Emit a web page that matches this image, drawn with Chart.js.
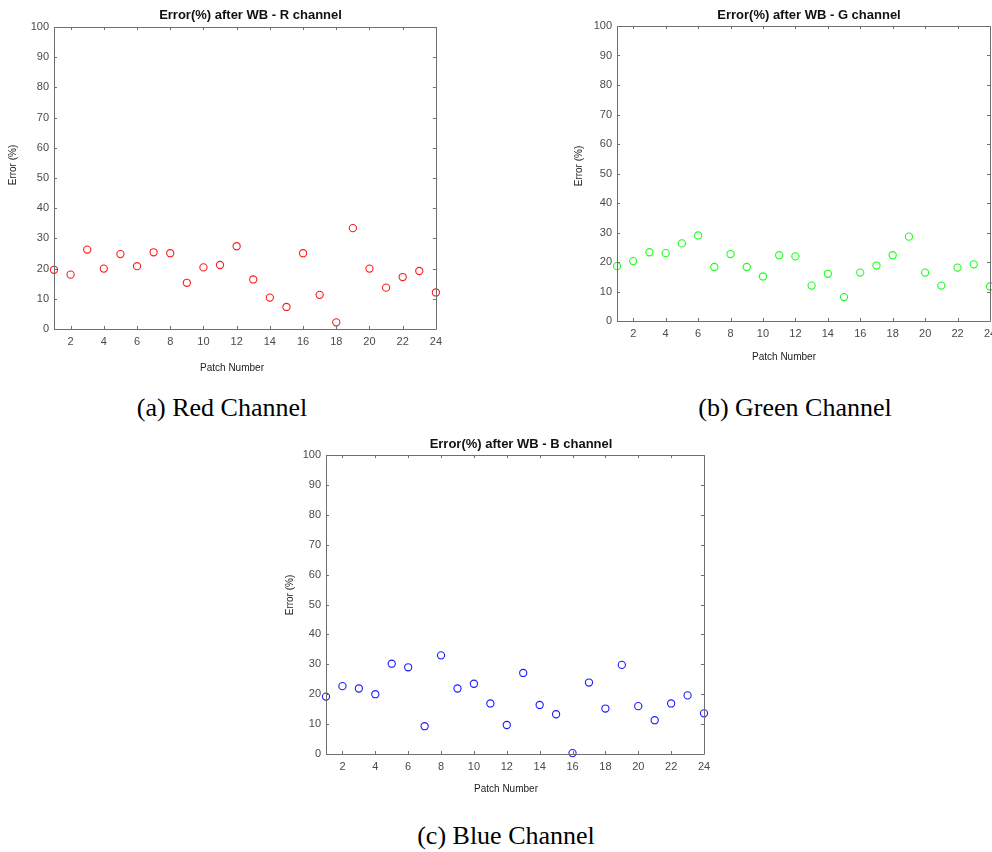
<!DOCTYPE html>
<html>
<head>
<meta charset="utf-8">
<script src="https://cdn.jsdelivr.net/npm/chart.js@4"></script>
<style>
  html, body { margin: 0; padding: 0; background: #fff; overflow: hidden; }
  body { width: 992px; height: 852px; position: relative; }
  .box { position: absolute; }
  .cap { position: absolute; font-family: "Liberation Serif", "Times New Roman", serif; font-size: 26px; color: #000; white-space: nowrap; transform: translate(-50%, -50%); }
</style>
</head>
<body>

<div class="box" id="boxR" style="left:0px;top:0px;width:448px;height:380px"><canvas id="chartR"></canvas></div>
<div class="box" id="boxG" style="left:560px;top:0px;width:452px;height:372px"><canvas id="chartG"></canvas></div>
<div class="box" id="boxB" style="left:280px;top:430px;width:440px;height:372px"><canvas id="chartB"></canvas></div>

<div class="cap" style="left:222px;top:408px">(a) Red Channel</div>
<div class="cap" style="left:795px;top:408px">(b) Green Channel</div>
<div class="cap" style="left:506px;top:836px">(c) Blue Channel</div>

<script>
// data
const patches = [1, 2, 3, 4, 5, 6, 7, 8, 9, 10, 11, 12, 13, 14, 15, 16, 17, 18, 19, 20, 21, 22, 23, 24];
const redErr   = [19.6, 18.0, 26.3, 20.0, 24.8, 20.8, 25.4, 25.1, 15.3, 20.4, 21.2, 27.4, 16.4, 10.4, 7.3, 25.1, 11.3, 2.2, 33.4, 20.0, 13.7, 17.2, 19.2, 12.1];
const greenErr = [18.6, 20.3, 23.3, 23.0, 26.3, 29.0, 18.3, 22.7, 18.3, 15.1, 22.3, 21.9, 12.0, 16.0, 8.1, 16.4, 18.8, 22.3, 28.6, 16.4, 12.0, 18.1, 19.2, 11.7];
const blueErr  = [19.2, 22.7, 21.9, 20.0, 30.2, 29.0, 9.3, 33.0, 21.9, 23.5, 16.9, 9.7, 27.1, 16.4, 13.3, 0.3, 23.9, 15.2, 29.8, 16.0, 11.3, 16.9, 19.6, 13.6];
const xTicks = [2, 4, 6, 8, 10, 12, 14, 16, 18, 20, 22, 24];
const yTicks = [0, 10, 20, 30, 40, 50, 60, 70, 80, 90, 100];

const FONT = '"Liberation Sans", Arial, Helvetica, sans-serif';

// matlab style box + inward ticks + title and axis labels
const matlabAxes = {
  id: 'matlabAxes',
  afterDatasetsDraw(chart, args, opts) {
    const ctx = chart.ctx;
    const a = chart.chartArea;
    const xs = chart.scales.x, ys = chart.scales.y;
    const tl = 3;
    ctx.save();
    ctx.strokeStyle = '#6e6e6e';
    ctx.lineWidth = 1;
    ctx.beginPath();
    ctx.rect(Math.round(a.left) + 0.5, Math.round(a.top) + 0.5, Math.round(a.right - a.left), Math.round(a.bottom - a.top));
    xTicks.forEach(v => {
      const px = Math.round(xs.getPixelForValue(v)) + 0.5;
      ctx.moveTo(px, a.bottom); ctx.lineTo(px, a.bottom - tl);
      ctx.moveTo(px, a.top); ctx.lineTo(px, a.top + tl);
    });
    yTicks.forEach(v => {
      const py = Math.round(ys.getPixelForValue(v)) + 0.5;
      ctx.moveTo(a.left, py); ctx.lineTo(a.left + tl, py);
      ctx.moveTo(a.right, py); ctx.lineTo(a.right - tl, py);
    });
    ctx.stroke();

    ctx.textAlign = 'center';
    ctx.textBaseline = 'middle';

    // title
    ctx.fillStyle = '#111';
    ctx.font = 'bold 13px ' + FONT;
    ctx.fillText(opts.title, opts.titlePos[0], opts.titlePos[1]);

    // axis labels
    ctx.fillStyle = '#222';
    ctx.font = '10px ' + FONT;
    ctx.fillText(opts.xLabel, opts.xLabelPos[0], opts.xLabelPos[1]);
    ctx.translate(opts.yLabelPos[0], opts.yLabelPos[1]);
    ctx.rotate(-Math.PI / 2);
    ctx.fillText(opts.yLabel, 0, 0);
    ctx.restore();
  }
};

function makeChart(canvasId, boxId, titleText, values, color, area, titlePos, xLabelPos, yLabelPos) {
  const boxEl = document.getElementById(boxId);
  const bx = boxEl.offsetLeft, by = boxEl.offsetTop;
  const bw = boxEl.offsetWidth, bh = boxEl.offsetHeight;

  return new Chart(document.getElementById(canvasId), {
    type: 'scatter',
    data: {
      datasets: [{
        data: patches.map((p, i) => ({ x: p, y: values[i] })),
        pointStyle: 'circle',
        pointRadius: 3.6,
        pointBorderWidth: 1.1,
        pointBorderColor: color,
        pointBackgroundColor: 'rgba(0,0,0,0)',
        showLine: false,
        clip: false
      }]
    },
    options: {
      responsive: true,
      maintainAspectRatio: false,
      animation: false,
      events: [],
      layout: { padding: { left: 0, top: area.t - by, bottom: 0, right: (bx + bw) - area.r } },
      plugins: {
        legend: { display: false },
        tooltip: { enabled: false },
        title: { display: false },
        matlabAxes: {
          title: titleText,
          titlePos: [titlePos[0] - bx, titlePos[1] - by],
          xLabel: 'Patch Number',
          yLabel: 'Error (%)',
          xLabelPos: [xLabelPos[0] - bx, xLabelPos[1] - by],
          yLabelPos: [yLabelPos[0] - bx, yLabelPos[1] - by]
        }
      },
      scales: {
        x: {
          type: 'linear',
          min: 1,
          max: 24,
          grid: { display: false, drawTicks: false },
          border: { display: false },
          afterBuildTicks: s => { s.ticks = xTicks.map(v => ({ value: v })); },
          afterFit: s => { s.height = (by + bh) - area.b; },
          ticks: { color: '#4a4a4a', font: { family: FONT, size: 11 }, padding: 6, maxRotation: 0, autoSkip: false }
        },
        y: {
          type: 'linear',
          min: 0,
          max: 100,
          grid: { display: false, drawTicks: false },
          border: { display: false },
          afterBuildTicks: s => { s.ticks = yTicks.map(v => ({ value: v })); },
          afterFit: s => { s.width = area.l - bx; },
          ticks: { color: '#4a4a4a', font: { family: FONT, size: 11 }, padding: 5, autoSkip: false }
        }
      }
    },
    plugins: [matlabAxes]
  });
}

makeChart('chartR', 'boxR', 'Error(%) after WB - R channel', redErr, '#ff1a1a',
  { l: 54, t: 27, r: 436, b: 329 }, [250.5, 15], [232, 368], [13, 165]);
makeChart('chartG', 'boxG', 'Error(%) after WB - G channel', greenErr, '#1aff1a',
  { l: 617, t: 26, r: 990, b: 321 }, [809, 15.5], [784, 357], [579, 166]);
makeChart('chartB', 'boxB', 'Error(%) after WB - B channel', blueErr, '#1a1aff',
  { l: 326, t: 455, r: 704, b: 754 }, [521, 444], [506, 789], [290, 595]);
</script>
</body>
</html>
